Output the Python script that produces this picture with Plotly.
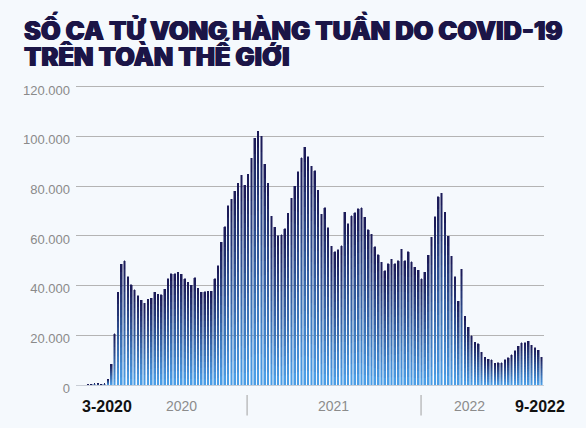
import plotly.graph_objects as go
import pandas as pd

# ---- data ----
first_week = "2020-02-02"
deaths = [
    200, 300, 600, 500, 400, 500,
    2400, 8350, 20600, 37300, 48600, 50000, 43600, 40300, 38400, 36000,
    34200, 33000, 34500, 35000, 37300, 36600, 36400, 38500, 42700, 44700,
    44700, 45500, 44600, 42700, 41400, 40100, 43100, 38900, 37400, 37600,
    37700, 37700, 42700, 48100, 57400, 63700, 72100, 74800, 78000, 81200,
    84500, 80400, 84900, 91300, 99300, 102100, 100100,
    88800, 81200, 68000, 63600, 60100, 60500, 63000, 69200, 75200, 80100,
    85900, 91500, 95800, 92000, 88100, 86300, 78500, 68700, 71300, 63300,
    55900, 53700, 54400, 56000, 69500, 64900, 68200,
    69400, 71000, 71300, 67600, 62600, 60600, 55600, 52400, 49400, 46000,
    48800, 50600, 48800, 50100, 54600, 50100, 53700, 49700, 47400, 46200,
    42800, 45400, 52300, 59500, 67800, 75700,
    77200, 69600, 59900, 51900, 43600, 33800, 46700, 27700, 23300, 19900,
    17200, 16600, 13200, 11200, 10400, 10200, 8800, 9000, 9000, 10200,
    11000, 12100, 13700, 15600, 17000, 17000, 17600, 16000, 15100, 14000,
    11200,
]
weeks = pd.date_range(first_week, periods=len(deaths), freq="7D")

y_ticks = [0, 20000, 40000, 60000, 80000, 100000, 120000]
x_labels = ["3-2020", "2020", "2021", "2022", "9-2022"]
x_label_dates = ["2020-03-13", "2020-08-16", "2021-07-01", "2022-04-12", "2022-09-08"]
x_label_bold = [True, False, False, False, True]
year_dividers = ["2021-01-01", "2022-01-01"]
title_lines = ["SỐ CA TỬ VONG HÀNG TUẦN DO COVID-19", "TRÊN TOÀN THẾ GIỚI"]

# ---- style ----
W, H = 586, 428
ML, MR, MT, MB = 76, 42, 82, 43
BG = "#f5f9fd"
TOP = (26, 24, 84)      # dark navy
BOT = (78, 162, 234)    # light blue
N = 16
TITLE_COLOR = "#1b1547"


def mix(t):
    r = [round(TOP[i] + (BOT[i] - TOP[i]) * t) for i in range(3)]
    return f"rgb({r[0]},{r[1]},{r[2]})"


fig = go.Figure()
# per-bar vertical gradient: each bar is split into N equal stacked pieces
for k in range(N):
    t = 1 - (k + 0.5) / N          # 1 at bottom (light) -> 0 at top (dark)
    c = mix(t)
    fig.add_trace(go.Bar(
        x=weeks, y=[v / N for v in deaths],
        marker=dict(color=c, line=dict(width=0.5, color=c)),
        hoverinfo="skip", showlegend=False,
    ))

PW = W - ML - MR
PH = H - MT - MB


def px_x(p):
    return (p - ML) / PW


def px_y(p):
    return (H - MB - p) / PH


annotations = []
# title
title_mid = [28, 55]
for line, mid in zip(title_lines, title_mid):
    annotations.append(dict(
        text=line, xref="paper", yref="paper", x=px_x(22), y=px_y(mid),
        xanchor="left", yanchor="middle", showarrow=False,
        font=dict(family="Inter, DejaVu Sans", size=25.4, color=TITLE_COLOR, weight=900,
                  shadow=f"0.6px 0 0 {TITLE_COLOR}, -0.6px 0 0 {TITLE_COLOR}"),
    ))
# x labels
for lab, d, b in zip(x_labels, x_label_dates, x_label_bold):
    annotations.append(dict(
        text=f"<b>{lab}</b>" if b else lab, xref="x", yref="paper", x=d, y=px_y(406),
        xanchor="center", yanchor="middle", showarrow=False,
        font=dict(family="Liberation Sans, Arial", size=16 if b else 14,
                  color="#111111" if b else "#8c8c8c"),
    ))

shapes = []
for d in year_dividers:
    shapes.append(dict(type="line", xref="x", yref="paper", x0=d, x1=d,
                       y0=px_y(395), y1=px_y(415.5), line=dict(color="#a0a0a0", width=1)))

fig.update_layout(
    width=W, height=H, margin=dict(l=ML, r=MR, t=MT, b=MB),
    paper_bgcolor=BG, plot_bgcolor=BG,
    barmode="stack", bargap=0.48,
    separators=",.",
    showlegend=False,
    annotations=annotations, shapes=shapes,
    xaxis=dict(type="date", range=["2020-01-08", "2022-09-16"], showgrid=False,
               showticklabels=False, zeroline=False, showline=False, ticks=""),
    yaxis=dict(range=[0, 122000], tickvals=y_ticks, tickformat=",d",
               showgrid=True, gridcolor="#b4b4b4", gridwidth=1,
               zeroline=True, zerolinecolor="#c9ced6", zerolinewidth=1,
               showline=False, ticks="", ticklabelstandoff=5, ticklabelshift=3,
               tickfont=dict(family="Liberation Sans, Arial", size=13, color="#8a8a8a")),
)

fig.write_html("out.html")
